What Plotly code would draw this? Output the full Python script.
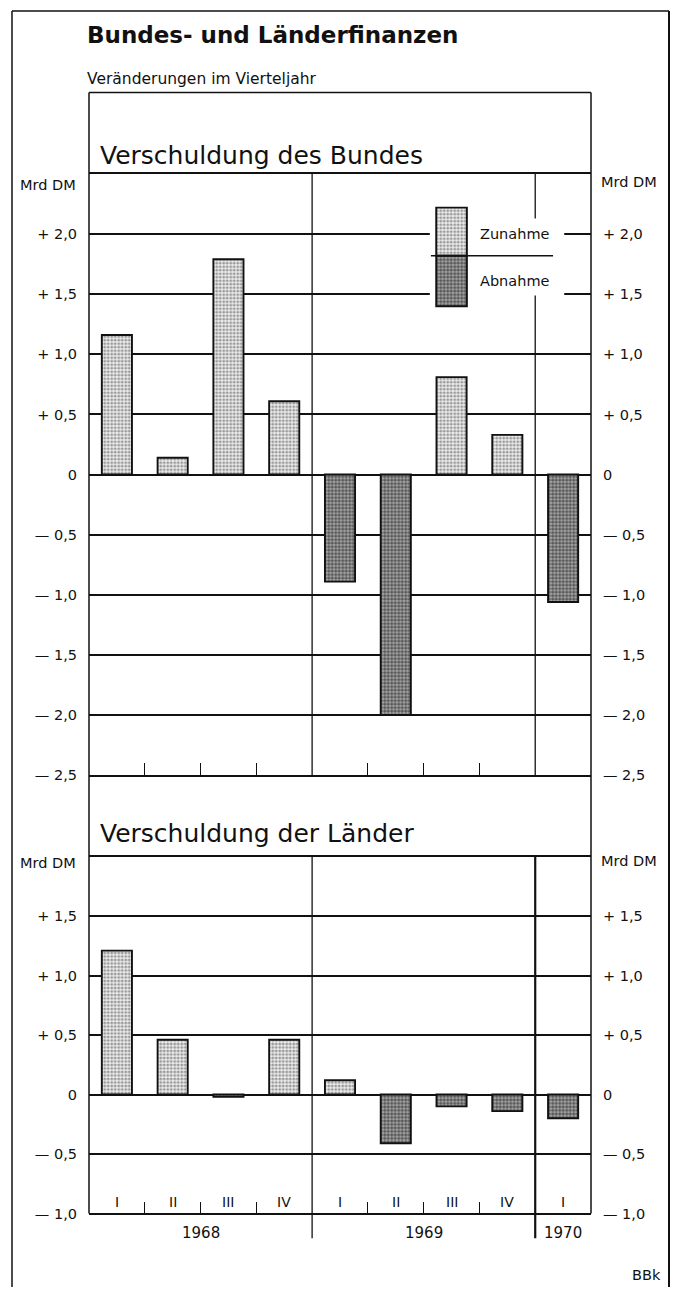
import plotly.graph_objects as go

# ---------------- data ----------------
quarters = ["I", "II", "III", "IV", "I", "II", "III", "IV", "I"]
years = ["1968", "1968", "1968", "1968", "1969", "1969", "1969", "1969", "1970"]
bund = [1.16, 0.14, 1.79, 0.61, -0.89, -2.00, 0.81, 0.33, -1.06]
laender = [1.21, 0.46, -0.02, 0.46, 0.12, -0.41, -0.10, -0.14, -0.20]
bund_ticks = [-2.5, -2.0, -1.5, -1.0, -0.5, 0.0, 0.5, 1.0, 1.5, 2.0]
laender_ticks = [-1.0, -0.5, 0.0, 0.5, 1.0, 1.5]

# ---------------- geometry helpers ----------------
W, H = 673, 1295
FONT = "DejaVu Sans"
INK = "#111111"


def px(p):
    return p / W


def py(p):
    return 1 - p / H


def fmt(v):
    if abs(v) < 1e-9:
        return "0"
    s = f"{abs(v):.1f}".replace(".", ",")
    return ("+ " if v > 0 else "— ") + s


xs = [i + 0.5 for i in range(len(quarters))]
BAR_W = 0.54

LIGHT = dict(color="white", line=dict(color=INK, width=1.9),
             pattern=dict(shape=".", fgcolor="#444444", bgcolor="#ececec", size=3.5, solidity=0.5))
DARK = dict(color="white", line=dict(color=INK, width=1.9),
            pattern=dict(shape=".", fgcolor="#0a0a0a", bgcolor="#a8a8a8", size=3.5, solidity=0.62))

fig = go.Figure()


def add_bars(vals, xa, ya, ya_right):
    pos = [v if v >= 0 else None for v in vals]
    neg = [v if v < 0 else None for v in vals]
    fig.add_trace(go.Bar(x=xs, y=pos, width=BAR_W, marker=LIGHT, xaxis=xa, yaxis=ya,
                         name="Zunahme", showlegend=False, hoverinfo="skip"))
    fig.add_trace(go.Bar(x=xs, y=neg, width=BAR_W, marker=DARK, xaxis=xa, yaxis=ya,
                         name="Abnahme", showlegend=False, hoverinfo="skip"))
    # invisible companion so the right-hand value axis is drawn
    fig.add_trace(go.Scatter(x=xs, y=vals, mode="none", xaxis=xa, yaxis=ya_right,
                             showlegend=False, hoverinfo="skip"))


add_bars(bund, "x", "y", "y2")
add_bars(laender, "x2", "y3", "y4")

# legend keys (drawn as bars so the texture matches)
LEG_X, LEG_MID, LEG_UP, LEG_DN = 6.5, 1.82, 0.40, -0.42
fig.add_trace(go.Bar(x=[LEG_X], y=[LEG_UP], base=[LEG_MID], width=0.55, marker=LIGHT,
                     xaxis="x", yaxis="y", showlegend=False, hoverinfo="skip"))
fig.add_trace(go.Bar(x=[LEG_X], y=[LEG_DN], base=[LEG_MID], width=0.55, marker=DARK,
                     xaxis="x", yaxis="y", showlegend=False, hoverinfo="skip"))

XDOM = [px(89), px(591)]
TOP_DOM = [py(780), py(175)]
BOT_DOM = [py(1221), py(862)]
tickfont = dict(family=FONT, size=14.5, color=INK)

xcommon = dict(range=[0, len(quarters)], domain=XDOM, showgrid=False, zeroline=False,
               showticklabels=False, ticks="", showline=True, linecolor=INK, linewidth=1.6,
               mirror=True, fixedrange=True,
               minor=dict(tickmode="array", tickvals=[1, 2, 3, 5, 6, 7], ticks="inside",
                          ticklen=12, tickcolor=INK, tickwidth=1.3, showgrid=False))


def yax(rng, ticks, dom, anchor, side, overlay=None, grid=True):
    d = dict(range=rng, domain=dom, anchor=anchor, side=side, tickmode="array",
             tickvals=ticks, ticktext=[fmt(t) for t in ticks], tickfont=tickfont,
             showgrid=grid, gridcolor=INK, gridwidth=1.5, zeroline=False,
             showline=False, ticks="", ticklabelstandoff=11, fixedrange=True)
    if overlay:
        d["overlaying"] = overlay
    return d


fig.update_layout(
    width=W, height=H, margin=dict(l=0, r=0, t=0, b=0),
    paper_bgcolor="white", plot_bgcolor="white", barmode="overlay",
    xaxis=dict(xcommon, anchor="y"),
    xaxis2=dict(xcommon, anchor="y3"),
    yaxis=yax([-2.5, 2.5], bund_ticks, TOP_DOM, "x", "left"),
    yaxis2=yax([-2.5, 2.5], bund_ticks, TOP_DOM, "x", "right", overlay="y", grid=False),
    yaxis3=yax([-1.0, 2.0], laender_ticks, BOT_DOM, "x2", "left"),
    yaxis4=yax([-1.0, 2.0], laender_ticks, BOT_DOM, "x2", "right", overlay="y3", grid=False),
)

shapes = []
L = dict(color=INK, width=1.5)
# outer frame
shapes.append(dict(type="line", xref="paper", yref="paper", x0=px(12), x1=px(12), y0=py(11), y1=0, line=L))
shapes.append(dict(type="line", xref="paper", yref="paper", x0=px(12), x1=px(669), y0=py(11), y1=py(11), line=L))
shapes.append(dict(type="line", xref="paper", yref="paper", x0=px(669), x1=px(669), y0=py(11), y1=0,
                   line=dict(color=INK, width=2)))
# inner panel frame
shapes.append(dict(type="line", xref="paper", yref="paper", x0=px(89), x1=px(89), y0=py(93), y1=py(1221), line=L))
shapes.append(dict(type="line", xref="paper", yref="paper", x0=px(591), x1=px(591), y0=py(93), y1=py(1221), line=L))
shapes.append(dict(type="line", xref="paper", yref="paper", x0=px(89), x1=px(591), y0=py(93), y1=py(93), line=L))

# white gap in gridlines behind the legend key
shapes.append(dict(type="rect", xref="x", yref="y", x0=6.11, x1=8.52, y0=1.44, y1=2.1,
                   fillcolor="white", line=dict(width=0), layer="between"))

# year dividers
bounds = [i for i in range(1, len(years)) if years[i] != years[i - 1]]
for b in bounds:
    if b == bounds[-1]:
        shapes.append(dict(type="line", xref="x", yref="y", x0=b, x1=b, y0=2.5, y1=2.13,
                           line=dict(color=INK, width=1.3), layer="between"))
        shapes.append(dict(type="line", xref="x", yref="y", x0=b, x1=b, y0=1.49, y1=-2.5,
                           line=dict(color=INK, width=1.3), layer="between"))
        w2 = 2.2
    else:
        shapes.append(dict(type="line", xref="x", yref="y", x0=b, x1=b, y0=2.5, y1=-2.5,
                           line=dict(color=INK, width=1.3), layer="between"))
        w2 = 1.3
    shapes.append(dict(type="line", xref="x2", yref="paper", x0=b, x1=b, y0=py(1246), y1=py(862),
                       line=dict(color=INK, width=w2), layer="between"))

# legend separator line
shapes.append(dict(type="line", xref="x", yref="y", x0=6.13, x1=8.32, y0=LEG_MID, y1=LEG_MID,
                   line=dict(color=INK, width=1.6), layer="above"))
fig.update_layout(shapes=shapes)

ann = []


def text(x, y, s, size, xanchor="left", xref="paper", bold=False):
    ann.append(dict(x=x, y=y, xref=xref, yref="paper", text=("<b>%s</b>" % s) if bold else s,
                    showarrow=False, xanchor=xanchor, yanchor="middle",
                    font=dict(family=FONT, size=size, color=INK)))


text(px(85), py(35), "Bundes- und Länderfinanzen", 23, bold=True)
text(px(85), py(79), "Veränderungen im Vierteljahr", 15.5)
text(px(98), py(156), "Verschuldung des Bundes", 25)
text(px(98), py(839), "Verschuldung der Länder", 25)
text(px(78), py(186), "Mrd DM", 14.5, xanchor="right")
text(px(599), py(183), "Mrd DM", 14.5)
text(px(78), py(868), "Mrd DM", 14.5, xanchor="right")
text(px(599), py(866), "Mrd DM", 14.5)
ann.append(dict(x=6.98, y=2.0, xref="x", yref="y", text="Zunahme", showarrow=False,
                xanchor="left", yanchor="middle", font=dict(family=FONT, size=14.5, color=INK)))
ann.append(dict(x=6.98, y=1.61, xref="x", yref="y", text="Abnahme", showarrow=False,
                xanchor="left", yanchor="middle", font=dict(family=FONT, size=14.5, color=INK)))

for xq, q in zip(xs, quarters):
    ann.append(dict(x=xq, y=py(1209), xref="x2", yref="paper", text=q, showarrow=False,
                    xanchor="center", yanchor="middle", font=dict(family=FONT, size=14, color=INK)))

# year labels centred on their quarters
ylist = []
for i, yv in enumerate(years):
    if not ylist or ylist[-1][0] != yv:
        ylist.append([yv, i, i + 1])
    else:
        ylist[-1][2] = i + 1
for yv, a, b in ylist:
    ann.append(dict(x=(a + b) / 2, y=py(1241), xref="x2", yref="paper", text=yv, showarrow=False,
                    xanchor="center", yanchor="middle", font=dict(family=FONT, size=15, color=INK)))

text(px(663), py(1283), "BBk", 14.5, xanchor="right")
fig.update_layout(annotations=ann)

fig.write_html("out.html", include_plotlyjs=True, config={"displayModeBar": False},
               post_script="document.body.style.margin='0';")
